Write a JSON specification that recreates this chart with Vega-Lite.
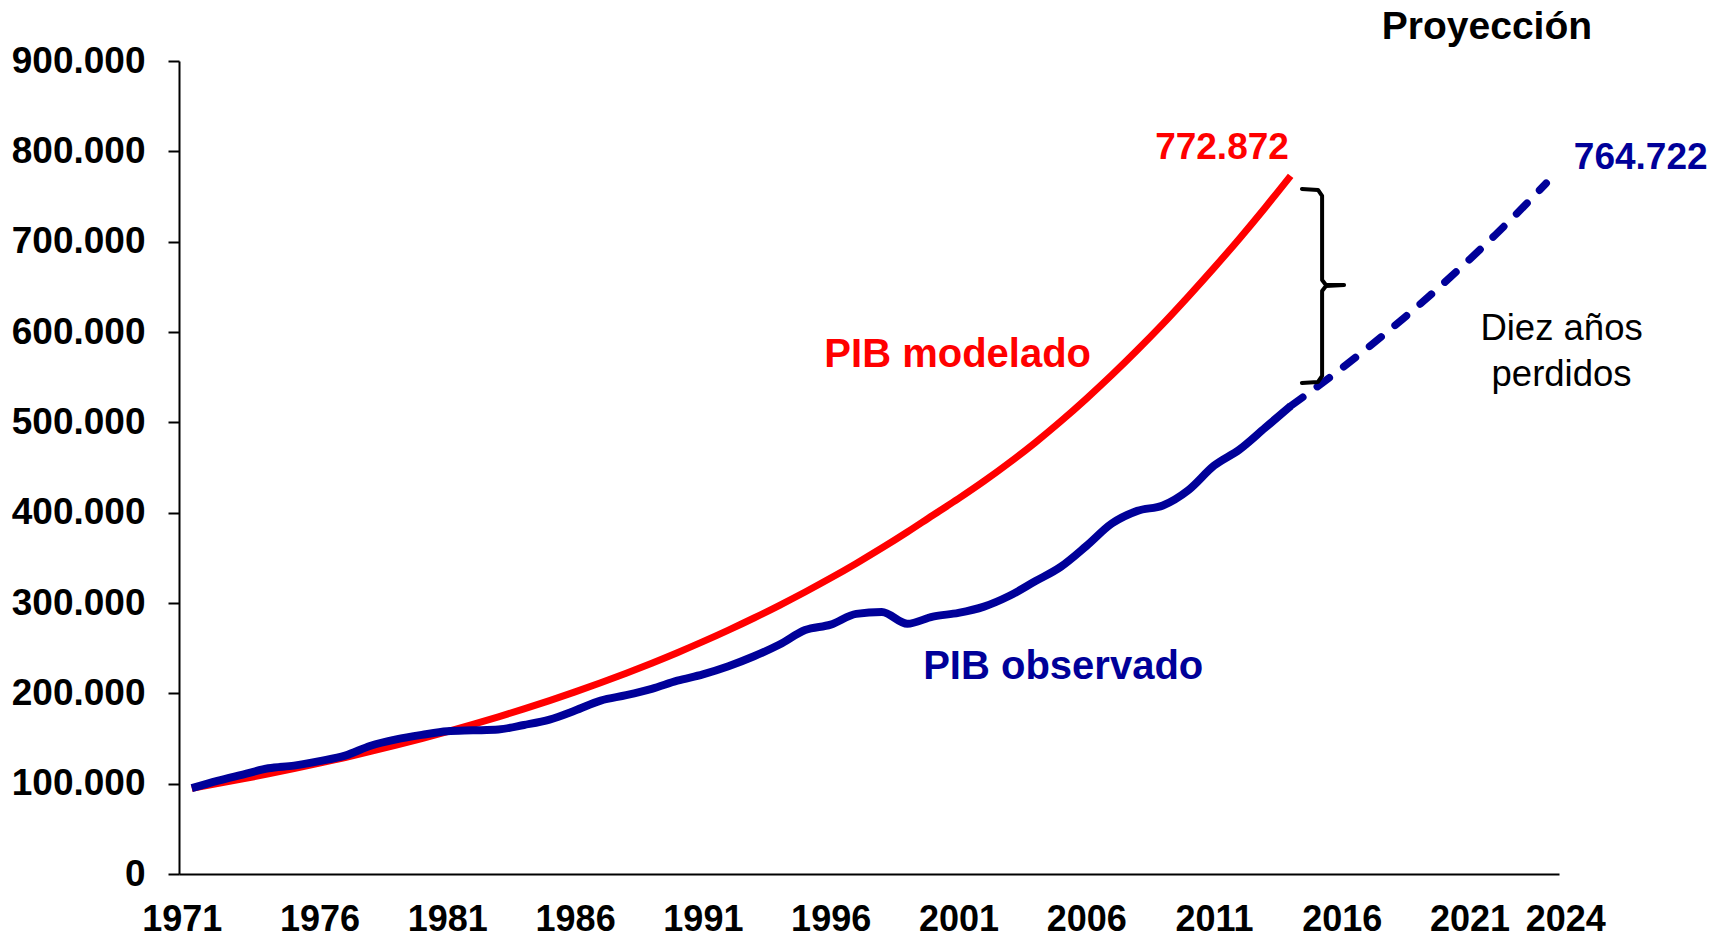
{
  "$schema": "https://vega.github.io/schema/vega-lite/v6.json",
  "width": 1380,
  "height": 813,
  "autosize": {"type": "none"},
  "padding": {"left": 179, "top": 61, "right": 164, "bottom": 65},
  "background": "white",
  "config": {
    "view": {"stroke": null},
    "font": "Liberation Sans",
    "locale": {"number": {"decimal": ",", "thousands": ".", "grouping": [3], "currency": ["", " €"]}}
  },
  "datasets": {
    "modelado": [
      {"year": 1971, "value": 95000}, {"year": 1972, "value": 100000}, {"year": 1973, "value": 105300},
      {"year": 1974, "value": 110800}, {"year": 1975, "value": 116600}, {"year": 1976, "value": 122700},
      {"year": 1977, "value": 129000}, {"year": 1978, "value": 135700}, {"year": 1979, "value": 142700},
      {"year": 1980, "value": 150000}, {"year": 1981, "value": 157600}, {"year": 1982, "value": 165600},
      {"year": 1983, "value": 174000}, {"year": 1984, "value": 182800}, {"year": 1985, "value": 192000},
      {"year": 1986, "value": 201600}, {"year": 1987, "value": 211700}, {"year": 1988, "value": 222300},
      {"year": 1989, "value": 233400}, {"year": 1990, "value": 245000}, {"year": 1991, "value": 257200},
      {"year": 1992, "value": 270000}, {"year": 1993, "value": 283400}, {"year": 1994, "value": 297500},
      {"year": 1995, "value": 312200}, {"year": 1996, "value": 327600}, {"year": 1997, "value": 343800},
      {"year": 1998, "value": 360800}, {"year": 1999, "value": 378600}, {"year": 2000, "value": 397200},
      {"year": 2001, "value": 415500}, {"year": 2002, "value": 434800}, {"year": 2003, "value": 455500},
      {"year": 2004, "value": 477500}, {"year": 2005, "value": 501000}, {"year": 2006, "value": 526000},
      {"year": 2007, "value": 552300}, {"year": 2008, "value": 580000}, {"year": 2009, "value": 609000},
      {"year": 2010, "value": 639500}, {"year": 2011, "value": 671000}, {"year": 2012, "value": 703600},
      {"year": 2013, "value": 737600}, {"year": 2014, "value": 772872}
    ],
    "observado": [
      {"year": 1971, "value": 95000}, {"year": 1972, "value": 103000}, {"year": 1973, "value": 110000},
      {"year": 1974, "value": 117000}, {"year": 1975, "value": 120000}, {"year": 1976, "value": 125000},
      {"year": 1977, "value": 131000}, {"year": 1978, "value": 142000}, {"year": 1979, "value": 149000},
      {"year": 1980, "value": 154000}, {"year": 1981, "value": 158000}, {"year": 1982, "value": 159000},
      {"year": 1983, "value": 160000}, {"year": 1984, "value": 165000}, {"year": 1985, "value": 171000},
      {"year": 1986, "value": 181000}, {"year": 1987, "value": 192000}, {"year": 1988, "value": 198000},
      {"year": 1989, "value": 205000}, {"year": 1990, "value": 214000}, {"year": 1991, "value": 221000},
      {"year": 1992, "value": 230000}, {"year": 1993, "value": 241000}, {"year": 1994, "value": 254000},
      {"year": 1995, "value": 270000}, {"year": 1996, "value": 276000}, {"year": 1997, "value": 288000},
      {"year": 1998, "value": 290000}, {"year": 1999, "value": 277000}, {"year": 2000, "value": 285000},
      {"year": 2001, "value": 289000}, {"year": 2002, "value": 296000}, {"year": 2003, "value": 308000},
      {"year": 2004, "value": 324000}, {"year": 2005, "value": 340000}, {"year": 2006, "value": 363000},
      {"year": 2007, "value": 388000}, {"year": 2008, "value": 402000}, {"year": 2009, "value": 408000},
      {"year": 2010, "value": 425000}, {"year": 2011, "value": 452000}, {"year": 2012, "value": 470000},
      {"year": 2013, "value": 494000}, {"year": 2014, "value": 518000}
    ],
    "proyeccion": [
      {"year": 2014, "value": 518000}, {"year": 2015, "value": 538600}, {"year": 2016, "value": 559900},
      {"year": 2017, "value": 582200}, {"year": 2018, "value": 605300}, {"year": 2019, "value": 629300},
      {"year": 2020, "value": 654300}, {"year": 2021, "value": 680300}, {"year": 2022, "value": 707300},
      {"year": 2023, "value": 735400}, {"year": 2024, "value": 764722}
    ],
    "llave": [
      {"o": 1, "year": 2014.44, "value": 758300}, {"o": 2, "year": 2015.07, "value": 757300},
      {"o": 3, "year": 2015.23, "value": 750600}, {"o": 4, "year": 2015.23, "value": 657600},
      {"o": 5, "year": 2015.38, "value": 652000}, {"o": 6, "year": 2016.09, "value": 652000},
      {"o": 7, "year": 2015.38, "value": 651000}, {"o": 8, "year": 2015.23, "value": 645400},
      {"o": 9, "year": 2015.23, "value": 551300}, {"o": 10, "year": 2015.07, "value": 544700},
      {"o": 11, "year": 2014.44, "value": 543600}
    ],
    "rotulos": [
      {"year": 2000.97, "value": 561000, "t": "PIB modelado"},
      {"year": 2005.1, "value": 216000, "t": "PIB observado"},
      {"year": 2013.93, "value": 791500, "t": "772.872"},
      {"year": 2025.08, "value": 780500, "t": "764.722"},
      {"year": 2021.68, "value": 924400, "t": "Proyección"},
      {"year": 2024.6, "value": 591200, "t": "Diez años"},
      {"year": 2024.6, "value": 540500, "t": "perdidos"}
    ]
  },
  "encoding": {
    "x": {
      "field": "year", "type": "quantitative",
      "scale": {"domain": [1970.5, 2024.5], "nice": false, "zero": false},
      "axis": {
        "title": null, "values": [1971, 1976, 1981, 1986, 1991, 1996, 2001, 2006, 2011, 2016, 2021, 2024],
        "format": "d", "grid": false, "ticks": false, "tickSize": 0,
        "labelOverlap": false, "labelBound": false, "labelFlush": false,
        "labelOffset": {"condition": [{"test": "datum.value == 2024", "value": 19}, {"test": "datum.value == 1971", "value": -10}], "value": 0},
        "domainColor": "black", "domainWidth": 2,
        "labelFont": "Liberation Sans", "labelFontWeight": "bold", "labelFontSize": 36, "labelColor": "black",
        "labelPadding": 28
      }
    },
    "y": {
      "field": "value", "type": "quantitative",
      "scale": {"domain": [0, 900000], "nice": false},
      "axis": {
        "title": null, "values": [0, 100000, 200000, 300000, 400000, 500000, 600000, 700000, 800000, 900000],
        "format": ",.0f", "grid": false, "tickSize": 11, "tickColor": "black", "tickWidth": 2,
        "labelOverlap": false,
        "domainColor": "black", "domainWidth": 2,
        "labelFont": "Liberation Sans", "labelFontWeight": "bold", "labelFontSize": 37, "labelColor": "black",
        "labelPadding": 23
      }
    }
  },
  "layer": [
    {
      "data": {"name": "modelado"},
      "mark": {"type": "line", "color": "#FF0000", "strokeWidth": 7, "interpolate": "monotone"}
    },
    {
      "data": {"name": "observado"},
      "mark": {"type": "line", "color": "#000099", "strokeWidth": 8, "interpolate": "monotone"}
    },
    {
      "data": {"name": "proyeccion"},
      "mark": {"type": "line", "color": "#000099", "strokeWidth": 7.5, "interpolate": "monotone", "strokeDash": [15, 18], "strokeCap": "round"}
    },
    {
      "data": {"name": "llave"},
      "mark": {"type": "line", "color": "black", "strokeWidth": 4, "interpolate": "linear", "strokeJoin": "round", "strokeCap": "round"},
      "encoding": {"order": {"field": "o", "type": "quantitative"}}
    },
    {
      "data": {"values": [{}]},
      "mark": {"type": "rule", "color": "black", "strokeWidth": 3, "strokeDash": [3.5, 3.5]},
      "encoding": {"x": {"datum": 2014}, "y": {"datum": 920000}, "y2": {"datum": 0}}
    },
    {
      "data": {"name": "rotulos"},
      "transform": [{"filter": "datum.t == 'PIB modelado'"}],
      "mark": {"type": "text", "color": "#FF0000", "fontSize": 40, "fontWeight": "bold", "align": "center", "baseline": "alphabetic"},
      "encoding": {"text": {"field": "t"}}
    },
    {
      "data": {"name": "rotulos"},
      "transform": [{"filter": "datum.t == '772.872'"}],
      "mark": {"type": "text", "color": "#FF0000", "fontSize": 37, "fontWeight": "bold", "align": "right", "baseline": "alphabetic"},
      "encoding": {"text": {"field": "t"}}
    },
    {
      "data": {"name": "rotulos"},
      "transform": [{"filter": "datum.t == 'PIB observado'"}],
      "mark": {"type": "text", "color": "#000099", "fontSize": 40, "fontWeight": "bold", "align": "center", "baseline": "alphabetic"},
      "encoding": {"text": {"field": "t"}}
    },
    {
      "data": {"name": "rotulos"},
      "transform": [{"filter": "datum.t == '764.722'"}],
      "mark": {"type": "text", "color": "#000099", "fontSize": 37, "fontWeight": "bold", "align": "left", "baseline": "alphabetic"},
      "encoding": {"text": {"field": "t"}}
    },
    {
      "data": {"name": "rotulos"},
      "transform": [{"filter": "datum.t == 'Proyección'"}],
      "mark": {"type": "text", "color": "black", "fontSize": 39, "fontWeight": "bold", "align": "center", "baseline": "alphabetic"},
      "encoding": {"text": {"field": "t"}}
    },
    {
      "data": {"name": "rotulos"},
      "transform": [{"filter": "datum.t == 'Diez años' || datum.t == 'perdidos'"}],
      "mark": {"type": "text", "color": "black", "fontSize": 36.5, "fontWeight": "normal", "align": "center", "baseline": "alphabetic"},
      "encoding": {"text": {"field": "t"}}
    }
  ]
}
